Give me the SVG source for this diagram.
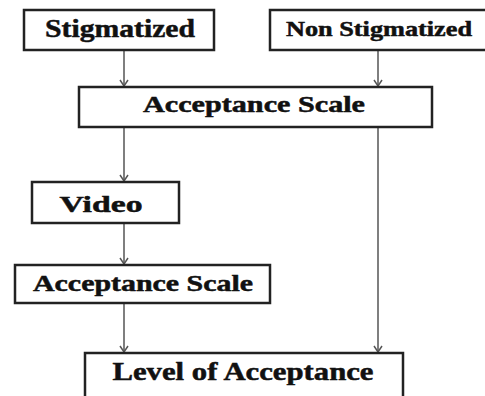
<svg xmlns="http://www.w3.org/2000/svg" width="485" height="396" viewBox="0 0 485 396">
<style>
.box{fill:#fff;stroke:#222;stroke-width:2.5}
.lbl{font-family:"Liberation Serif","Times New Roman",serif;font-weight:bold;fill:#111;stroke:#111;stroke-width:0.5;text-anchor:middle}
.conn{stroke:#555;stroke-width:1.5;fill:none;marker-end:url(#arr)}
</style>
<defs>
<marker id="arr" markerWidth="8" markerHeight="10" refX="7" refY="5" orient="auto" markerUnits="userSpaceOnUse" viewBox="0 0 8 10">
<path d="M1,1 L7,5 L1,9" fill="none" stroke="#555" stroke-width="1.5"/>
</marker>
</defs>
<rect width="485" height="396" fill="#fff"/>
<g id="connectors">
<line class="conn" x1="124" y1="51" x2="124" y2="86"/>
<line class="conn" x1="378" y1="51" x2="378" y2="86"/>
<line class="conn" x1="124" y1="128" x2="124" y2="181"/>
<line class="conn" x1="378" y1="128" x2="378" y2="352"/>
<line class="conn" x1="124" y1="224" x2="124" y2="264"/>
<line class="conn" x1="124" y1="304" x2="124" y2="352"/>
</g>
<g id="stigmatized">
<rect class="box" x="24" y="10" width="190" height="40"/>
<text class="lbl" x="120" y="37" font-size="26" textLength="150" lengthAdjust="spacingAndGlyphs">Stigmatized</text>
</g>
<g id="non-stigmatized">
<rect class="box" x="270" y="10" width="220" height="40"/>
<text class="lbl" x="379" y="36" font-size="21" textLength="186" lengthAdjust="spacingAndGlyphs">Non Stigmatized</text>
</g>
<g id="acceptance-scale-1">
<rect class="box" x="79" y="87" width="353" height="40"/>
<text class="lbl" x="254" y="112" font-size="23" textLength="222" lengthAdjust="spacingAndGlyphs">Acceptance Scale</text>
</g>
<g id="video">
<rect class="box" x="32" y="182" width="147" height="41"/>
<text class="lbl" x="101" y="212" font-size="24" textLength="83" lengthAdjust="spacingAndGlyphs">Video</text>
</g>
<g id="acceptance-scale-2">
<rect class="box" x="15" y="265" width="255" height="38"/>
<text class="lbl" x="143" y="291" font-size="23" textLength="220" lengthAdjust="spacingAndGlyphs">Acceptance Scale</text>
</g>
<g id="level-of-acceptance">
<rect class="box" x="85" y="353" width="318" height="45"/>
<text class="lbl" x="243" y="380" font-size="25" textLength="261" lengthAdjust="spacingAndGlyphs">Level of Acceptance</text>
</g>
</svg>
